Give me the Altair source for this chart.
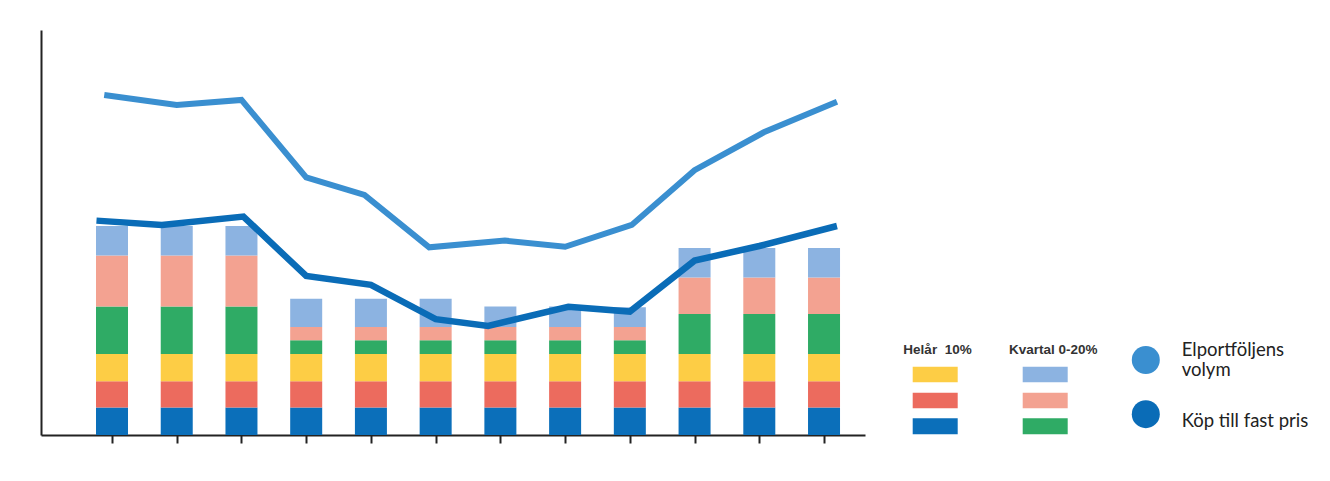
import altair as alt
import pandas as pd

# ---------------- data ----------------
months = [1, 2, 3, 4, 5, 6, 7, 8, 9, 10, 11, 12]

segment_names = ["Helår 3", "Helår 2", "Helår 1", "Kvartal 3", "Kvartal 2", "Kvartal 1"]
segment_colors = ["#0b6fba", "#ec6b5e", "#fdcd45", "#2fab65", "#f3a291", "#8cb3e1"]

helar_3 = [10.2, 10.2, 10.2, 10.2, 10.2, 10.2, 10.2, 10.2, 10.2, 10.2, 10.2, 10.2]
helar_2 = [9.7, 9.7, 9.7, 9.7, 9.7, 9.7, 9.7, 9.7, 9.7, 9.7, 9.7, 9.7]
helar_1 = [10.1, 10.1, 10.1, 10.1, 10.1, 10.1, 10.1, 10.1, 10.1, 10.1, 10.1, 10.1]
kvartal_3 = [17.6, 17.6, 17.6, 5.1, 5.1, 5.1, 5.1, 5.1, 5.1, 14.8, 14.8, 14.8]
kvartal_2 = [18.9, 18.9, 18.9, 4.9, 4.9, 4.9, 4.9, 4.9, 4.9, 13.5, 13.5, 13.5]
kvartal_1 = [10.9, 10.9, 10.9, 10.5, 10.5, 10.5, 7.6, 7.6, 7.3, 11.0, 11.0, 11.0]

volym_x = [0.88, 2.0, 3.0, 4.0, 4.9, 5.9, 7.07, 8.0, 9.03, 10.0, 11.07, 12.2]
volym_y = [125.9, 122.2, 124.1, 95.4, 88.9, 69.5, 72.0, 69.7, 77.8, 98.1, 112.1, 123.4]

fast_x = [0.76, 1.77, 3.03, 4.0, 5.0, 6.0, 6.81, 8.05, 9.0, 10.0, 11.0, 12.2]
fast_y = [79.4, 77.8, 80.9, 58.9, 55.6, 42.9, 40.4, 47.5, 45.7, 64.6, 70.0, 77.4]

legend_heading_helar = "Helår\u00a0 10%"
legend_heading_kvartal = "Kvartal 0-20%"
line_labels = ["Elportföljens", "volym", "Köp till fast pris"]
line_colors = ["#3a8fd0", "#0a6cb7"]

# ---------------- tables ----------------
series = [helar_3, helar_2, helar_1, kvartal_3, kvartal_2, kvartal_1]
rows = []
for idx, (name, vals) in enumerate(zip(segment_names, series)):
    for m, v in zip(months, vals):
        rows.append({"month": m, "value": v, "segment": name, "stack_idx": idx})
bars_df = pd.DataFrame(rows)
volym_df = pd.DataFrame({"x": volym_x, "y": volym_y})
fast_df = pd.DataFrame({"x": fast_x, "y": fast_y})

xscale = alt.Scale(domain=[-0.097, 12.633], nice=False, zero=False, padding=0)
yscale = alt.Scale(domain=[0, 150], nice=False, padding=0)

bars = alt.Chart(bars_df).mark_bar(size=32).encode(
    x=alt.X("month:Q", scale=xscale,
            axis=alt.Axis(values=months, labels=False, tickSize=8, tickWidth=2,
                          tickColor="#222", domainColor="#222", domainWidth=2,
                          grid=False, title=None)),
    y=alt.Y("value:Q", stack="zero", scale=yscale,
            axis=alt.Axis(labels=False, ticks=False, grid=False, domainColor="#222",
                          domainWidth=2, title=None)),
    color=alt.Color("segment:N", scale=alt.Scale(domain=segment_names, range=segment_colors),
                    legend=None),
    order=alt.Order("stack_idx:Q", sort="ascending"),
)

volym_line = alt.Chart(volym_df).mark_line(color=line_colors[0], strokeWidth=6).encode(
    x=alt.X("x:Q", scale=xscale), y=alt.Y("y:Q", scale=yscale))
fast_line = alt.Chart(fast_df).mark_line(color=line_colors[1], strokeWidth=6.5).encode(
    x=alt.X("x:Q", scale=xscale), y=alt.Y("y:Q", scale=yscale))

main = alt.layer(bars, volym_line, fast_line).properties(width=824, height=405)

# ---------------- legend panel (layout coordinates) ----------------
LW, LH = 440, 405
lx = alt.Scale(domain=[0, LW], nice=False, zero=False)
ly = alt.Scale(domain=[0, LH], nice=False, zero=False, reverse=True)

head_df = pd.DataFrame({"text": [legend_heading_helar, legend_heading_kvartal],
                        "x": [62.5, 178.3], "y": [320, 320]})
sw_df = pd.DataFrame({
    "seg": ["Helår 1", "Helår 2", "Helår 3", "Kvartal 1", "Kvartal 2", "Kvartal 3"],
    "x": [37.7, 37.7, 37.7, 147.7, 147.7, 147.7],
    "x2": [82.7, 82.7, 82.7, 192.7, 192.7, 192.7],
    "y": [336.7, 362.7, 388.3, 336.7, 362.7, 388.3],
    "y2": [352.3, 378.3, 404.3, 352.3, 378.3, 404.3],
})
sw_df["color"] = [segment_colors[segment_names.index(s)] for s in sw_df["seg"]]
circ_df = pd.DataFrame({"x": [270.8, 270.8], "y": [330, 384.2], "color": line_colors})
lab_df = pd.DataFrame({"text": line_labels, "x": [306.7, 306.7, 306.7], "y": [326, 345.5, 396.5]})

heads = alt.Chart(head_df).mark_text(align="center", baseline="middle", font="Liberation Sans",
                                      fontWeight="bold", fontSize=13.5, color="#333").encode(
    x=alt.X("x:Q", scale=lx, axis=None), y=alt.Y("y:Q", scale=ly, axis=None), text="text:N")
swatches = alt.Chart(sw_df).mark_rect().encode(
    x=alt.X("x:Q", scale=lx, axis=None), x2="x2:Q",
    y=alt.Y("y:Q", scale=ly, axis=None), y2="y2:Q",
    color=alt.Color("color:N", scale=None))
circles = alt.Chart(circ_df).mark_circle(size=784, opacity=1).encode(
    x=alt.X("x:Q", scale=lx, axis=None), y=alt.Y("y:Q", scale=ly, axis=None),
    color=alt.Color("color:N", scale=None))
labels = alt.Chart(lab_df).mark_text(align="left", baseline="alphabetic", font="Lato",
                                      fontSize=18.5, color="#222").encode(
    x=alt.X("x:Q", scale=lx, axis=None), y=alt.Y("y:Q", scale=ly, axis=None), text="text:N")

legend = alt.layer(swatches, heads, circles, labels).properties(width=LW, height=LH)

chart = alt.hconcat(main, legend, spacing=10).properties(
    padding={"left": 33, "top": 22, "right": 0, "bottom": 0}
).configure_view(stroke=None)

chart.save("out.html", embed_options={"renderer": "svg", "actions": False})
